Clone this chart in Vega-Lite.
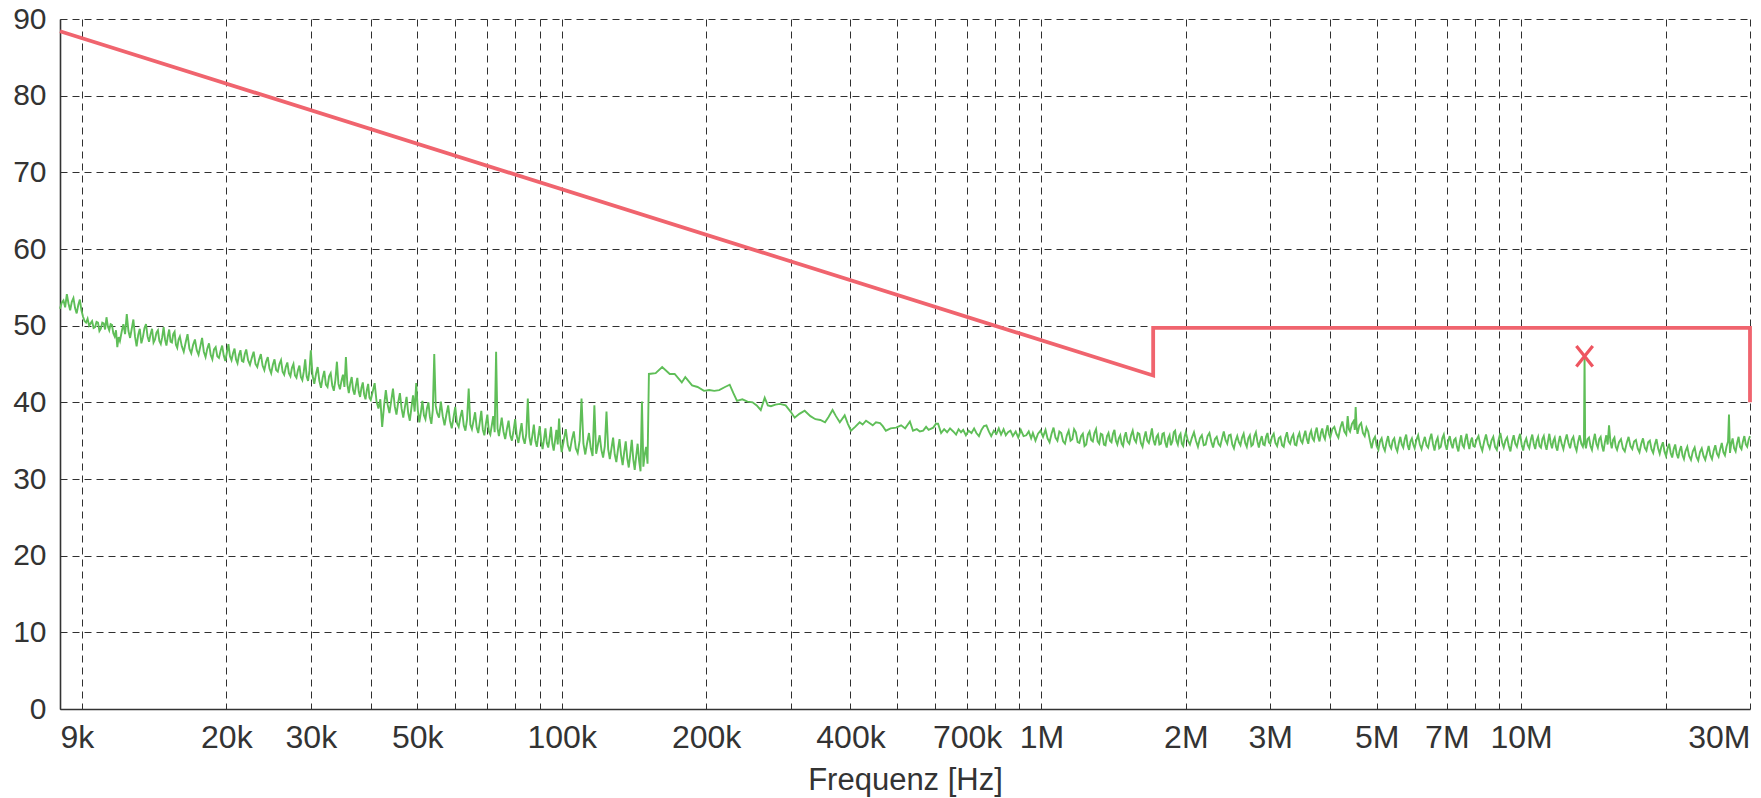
{
"$schema":"https://vega.github.io/schema/vega-lite/v6.json",
"width":1690,"height":690,
"autosize":{"type":"none"},
"padding":{"left":60,"top":19,"right":11,"bottom":89},
"background":"white",
"config":{"view":{"stroke":null},"font":"Liberation Sans"},
"datasets":{
"noise":[
{"f":9,"v":52.2},{"f":9.075,"v":53.0},{"f":9.15,"v":53.3},{"f":9.225,"v":52.4},{"f":9.3,"v":54.1},{"f":9.375,"v":52.9},{"f":9.45,"v":52.0},{"f":9.525,"v":53.1},{"f":9.6,"v":53.6},{"f":9.675,"v":52.3},{"f":9.75,"v":51.6},{"f":9.825,"v":52.7},{"f":9.9,"v":53.4},{"f":9.975,"v":52.0},{"f":10.05,"v":51.2},{"f":10.125,"v":50.6},{"f":10.2,"v":50.4},{"f":10.275,"v":50.9},{"f":10.35,"v":50.0},{"f":10.425,"v":50.3},{"f":10.5,"v":50.6},{"f":10.575,"v":49.7},{"f":10.65,"v":49.8},{"f":10.725,"v":50.5},{"f":10.8,"v":50.4},{"f":10.875,"v":49.3},{"f":10.95,"v":49.6},{"f":11.025,"v":50.4},{"f":11.1,"v":50.3},{"f":11.175,"v":49.5},{"f":11.25,"v":51.1},{"f":11.325,"v":49.9},{"f":11.4,"v":49.4},{"f":11.475,"v":50.2},{"f":11.55,"v":50.1},{"f":11.625,"v":49.0},{"f":11.7,"v":48.6},{"f":11.775,"v":49.4},{"f":11.85,"v":47.2},{"f":11.925,"v":48.5},
{"f":12,"v":48.0},{"f":12.1,"v":49.2},{"f":12.2,"v":50.2},{"f":12.3,"v":48.9},{"f":12.4,"v":51.5},{"f":12.5,"v":49.3},{"f":12.6,"v":48.4},{"f":12.7,"v":49.6},{"f":12.8,"v":50.8},{"f":12.9,"v":48.6},{"f":13,"v":47.3},{"f":13.1,"v":48.8},{"f":13.2,"v":49.6},{"f":13.3,"v":47.7},{"f":13.4,"v":48.5},{"f":13.5,"v":49.7},{"f":13.6,"v":50.2},{"f":13.7,"v":48.6},{"f":13.8,"v":47.9},{"f":13.9,"v":48.9},{"f":14,"v":49.6},{"f":14.1,"v":47.8},{"f":14.2,"v":48.2},{"f":14.3,"v":49.1},{"f":14.4,"v":49.4},{"f":14.5,"v":48.0},{"f":14.6,"v":47.6},{"f":14.7,"v":48.5},{"f":14.8,"v":49.8},{"f":14.9,"v":48.2},{"f":15,"v":47.4},{"f":15.1,"v":48.6},{"f":15.2,"v":49.5},{"f":15.3,"v":47.9},{"f":15.4,"v":47.8},{"f":15.5,"v":48.9},{"f":15.6,"v":49.2},{"f":15.7,"v":47.5},{"f":15.8,"v":47.1},{"f":15.9,"v":48.2},
{"f":16,"v":48.6},{"f":16.15,"v":47.3},{"f":16.3,"v":46.6},{"f":16.45,"v":47.8},{"f":16.6,"v":48.9},{"f":16.75,"v":47.0},{"f":16.9,"v":46.4},{"f":17.05,"v":47.5},{"f":17.2,"v":48.2},{"f":17.35,"v":46.8},{"f":17.5,"v":46.2},{"f":17.65,"v":47.3},{"f":17.8,"v":48.4},{"f":17.95,"v":46.6},{"f":18.1,"v":45.9},{"f":18.25,"v":47.0},{"f":18.4,"v":47.7},{"f":18.55,"v":46.2},{"f":18.7,"v":45.6},{"f":18.85,"v":46.9},{"f":19,"v":47.2},{"f":19.15,"v":46.0},{"f":19.3,"v":45.8},{"f":19.45,"v":46.7},{"f":19.6,"v":47.4},{"f":19.75,"v":46.1},{"f":19.9,"v":45.4},{"f":20.05,"v":46.5},{"f":20.2,"v":47.6},{"f":20.35,"v":46.0},{"f":20.5,"v":45.5},{"f":20.65,"v":46.4},{"f":20.8,"v":47.0},{"f":20.95,"v":45.6},{"f":21.1,"v":45.1},{"f":21.25,"v":46.2},{"f":21.4,"v":46.8},{"f":21.55,"v":45.4},{"f":21.7,"v":45.3},{"f":21.85,"v":46.3},
{"f":22,"v":46.9},{"f":22.2,"v":45.5},{"f":22.4,"v":44.9},{"f":22.6,"v":45.8},{"f":22.8,"v":46.6},{"f":23,"v":45.0},{"f":23.2,"v":44.6},{"f":23.4,"v":45.6},{"f":23.6,"v":46.3},{"f":23.8,"v":44.8},{"f":24,"v":44.2},{"f":24.2,"v":45.3},{"f":24.4,"v":45.9},{"f":24.6,"v":44.4},{"f":24.8,"v":43.8},{"f":25,"v":44.9},{"f":25.2,"v":45.6},{"f":25.4,"v":44.2},{"f":25.6,"v":44.0},{"f":25.8,"v":45.0},{"f":26,"v":45.5},{"f":26.2,"v":44.0},{"f":26.4,"v":43.6},{"f":26.6,"v":44.6},{"f":26.8,"v":45.2},{"f":27,"v":43.8},{"f":27.2,"v":43.4},{"f":27.4,"v":44.5},{"f":27.6,"v":45.0},{"f":27.8,"v":43.5},{"f":28,"v":43.2},{"f":28.2,"v":44.2},{"f":28.4,"v":44.8},{"f":28.6,"v":43.3},{"f":28.8,"v":42.9},{"f":29,"v":44.0},{"f":29.2,"v":45.6},{"f":29.4,"v":43.4},{"f":29.6,"v":42.8},{"f":29.8,"v":44.1},
{"f":30,"v":46.8},{"f":30.25,"v":43.5},{"f":30.5,"v":42.4},{"f":30.75,"v":43.7},{"f":31,"v":44.6},{"f":31.25,"v":42.8},{"f":31.5,"v":41.9},{"f":31.75,"v":43.2},{"f":32,"v":44.1},{"f":32.25,"v":42.3},{"f":32.5,"v":42.0},{"f":32.75,"v":43.4},{"f":33,"v":43.8},{"f":33.25,"v":42.2},{"f":33.5,"v":41.5},{"f":33.75,"v":42.9},{"f":34,"v":45.3},{"f":34.25,"v":42.4},{"f":34.5,"v":41.7},{"f":34.75,"v":42.8},{"f":35,"v":43.6},{"f":35.25,"v":42.0},{"f":35.5,"v":45.9},{"f":35.75,"v":42.3},{"f":36,"v":41.2},{"f":36.25,"v":42.5},{"f":36.5,"v":43.3},{"f":36.75,"v":41.6},{"f":37,"v":41.0},{"f":37.25,"v":42.2},{"f":37.5,"v":43.2},{"f":37.75,"v":41.4},{"f":38,"v":40.7},{"f":38.25,"v":41.9},{"f":38.5,"v":42.6},{"f":38.75,"v":41.0},{"f":39,"v":40.4},{"f":39.25,"v":41.6},{"f":39.5,"v":42.4},{"f":39.75,"v":40.6},
{"f":40,"v":40.3},{"f":40.375,"v":41.4},{"f":40.75,"v":42.5},{"f":41.125,"v":40.1},{"f":41.5,"v":39.2},{"f":41.875,"v":40.4},{"f":42.25,"v":36.8},{"f":42.625,"v":39.5},{"f":43,"v":41.6},{"f":43.375,"v":39.7},{"f":43.75,"v":38.6},{"f":44.125,"v":40.2},{"f":44.5,"v":41.8},{"f":44.875,"v":39.5},{"f":45.25,"v":38.4},{"f":45.625,"v":40.0},{"f":46,"v":41.2},{"f":46.375,"v":39.2},{"f":46.75,"v":38.0},{"f":47.125,"v":39.4},{"f":47.5,"v":40.7},{"f":47.875,"v":38.6},{"f":48.25,"v":37.6},{"f":48.625,"v":39.3},{"f":49,"v":40.9},{"f":49.375,"v":38.8},{"f":49.75,"v":42.5},{"f":50.125,"v":39.0},{"f":50.5,"v":37.4},{"f":50.875,"v":38.7},{"f":51.25,"v":40.2},{"f":51.625,"v":38.3},{"f":52,"v":37.8},{"f":52.375,"v":39.2},{"f":52.75,"v":40.0},{"f":53.125,"v":38.1},{"f":53.5,"v":37.2},{"f":53.875,"v":39.0},{"f":54.25,"v":46.3},{"f":54.625,"v":39.6},{"f":55,"v":38.6},{"f":55.5,"v":38.0},
{"f":56,"v":40.1},{"f":56.5,"v":38.2},{"f":57,"v":37.0},{"f":57.5,"v":38.4},{"f":58,"v":39.6},{"f":58.5,"v":37.6},{"f":59,"v":36.6},{"f":59.5,"v":38.0},{"f":60,"v":39.4},{"f":60.5,"v":37.3},{"f":61,"v":36.8},{"f":61.5,"v":38.1},{"f":62,"v":39.0},{"f":62.5,"v":37.0},{"f":63,"v":36.3},{"f":63.5,"v":37.8},{"f":64,"v":41.8},{"f":64.5,"v":37.1},{"f":65,"v":36.5},{"f":65.5,"v":37.6},{"f":66,"v":38.7},{"f":66.5,"v":36.7},{"f":67,"v":36.0},{"f":67.5,"v":37.4},{"f":68,"v":38.9},{"f":68.5,"v":36.4},{"f":69,"v":35.7},{"f":69.5,"v":37.2},{"f":70,"v":38.4},{"f":70.5,"v":36.2},{"f":71,"v":35.8},{"f":71.5,"v":37.0},{"f":72,"v":38.2},{"f":72.5,"v":36.1},{"f":73,"v":46.6},{"f":73.5,"v":36.6},{"f":74,"v":35.6},{"f":74.5,"v":36.8},{"f":75,"v":38.0},
{"f":75.625,"v":36.2},{"f":76.25,"v":35.2},{"f":76.875,"v":36.5},{"f":77.5,"v":37.6},{"f":78.125,"v":35.7},{"f":78.75,"v":35.0},{"f":79.375,"v":36.3},{"f":80,"v":37.8},{"f":80.625,"v":35.6},{"f":81.25,"v":34.7},{"f":81.875,"v":36.0},{"f":82.5,"v":37.3},{"f":83.125,"v":35.3},{"f":83.75,"v":34.6},{"f":84.375,"v":35.9},{"f":85,"v":40.5},{"f":85.625,"v":35.5},{"f":86.25,"v":34.4},{"f":86.875,"v":35.7},{"f":87.5,"v":37.1},{"f":88.125,"v":35.0},{"f":88.75,"v":34.2},{"f":89.375,"v":35.6},{"f":90,"v":36.9},{"f":90.625,"v":34.9},{"f":91.25,"v":33.9},{"f":91.875,"v":35.2},{"f":92.5,"v":36.6},{"f":93.125,"v":34.7},{"f":93.75,"v":34.1},{"f":94.375,"v":35.3},{"f":95,"v":36.8},{"f":95.625,"v":34.6},{"f":96.25,"v":33.7},{"f":96.875,"v":35.0},{"f":97.5,"v":36.4},{"f":98.125,"v":34.5},{"f":98.75,"v":37.9},{"f":99.375,"v":34.8},{"f":100,"v":33.5},
{"f":101,"v":35.0},{"f":102,"v":36.5},{"f":103,"v":34.4},{"f":104,"v":33.6},{"f":105,"v":35.1},{"f":106,"v":36.2},{"f":107,"v":34.0},{"f":108,"v":33.4},{"f":109,"v":35.0},{"f":110,"v":40.5},{"f":111,"v":34.6},{"f":112,"v":33.2},{"f":113,"v":34.7},{"f":114,"v":36.0},{"f":115,"v":34.0},{"f":116,"v":33.0},{"f":117,"v":39.6},{"f":118,"v":33.3},{"f":119,"v":34.5},{"f":120,"v":35.7},{"f":121,"v":33.8},{"f":122,"v":32.8},{"f":123,"v":34.3},{"f":124,"v":38.8},{"f":125,"v":33.9},{"f":126,"v":32.6},{"f":127,"v":34.0},{"f":128,"v":35.4},{"f":129,"v":33.2},{"f":130,"v":32.2},{"f":131,"v":33.8},{"f":132,"v":35.2},{"f":133,"v":33.1},{"f":134,"v":31.8},{"f":135,"v":33.5},{"f":136,"v":34.9},{"f":137,"v":32.7},{"f":138,"v":31.5},{"f":139,"v":33.2},{"f":140,"v":35.1},{"f":141,"v":32.6},{"f":142,"v":31.2},{"f":143,"v":33.0},{"f":144,"v":34.6},{"f":145,"v":32.4},{"f":146,"v":31.0},{"f":147,"v":40.1},{"f":148,"v":31.6},{"f":149,"v":33.2},{"f":150,"v":34.2},{"f":151,"v":32.0},
{"f":152,"v":43.7},{"f":157,"v":43.8},{"f":162,"v":44.6},{"f":168,"v":43.7},{"f":172,"v":43.7},{"f":178,"v":42.6},{"f":181,"v":43.3},{"f":187,"v":42.2},{"f":192,"v":42.0},{"f":198,"v":41.5},{"f":203,"v":41.6},{"f":208,"v":41.5},{"f":213,"v":41.6},{"f":219,"v":42.0},{"f":224,"v":42.3},{"f":228,"v":41.2},{"f":232,"v":40.2},{"f":238,"v":40.4},{"f":244,"v":40.1},{"f":250,"v":40.0},{"f":255,"v":39.6},{"f":260,"v":39.0},{"f":265,"v":40.6},{"f":269,"v":39.6},{"f":273,"v":39.5},{"f":279,"v":39.7},{"f":285,"v":39.8},{"f":293,"v":39.6},{"f":300,"v":38.8},{"f":306,"v":38.0},{"f":313,"v":38.5},{"f":321,"v":38.9},{"f":330,"v":38.2},{"f":338,"v":37.8},{"f":346,"v":37.7},{"f":354,"v":37.4},{"f":360,"v":38.1},{"f":367,"v":39.0},{"f":373,"v":38.2},{"f":380,"v":37.4},{"f":389,"v":38.3},{"f":395,"v":37.2},{"f":401,"v":36.3},{"f":409,"v":36.8},{"f":418,"v":37.4},{"f":424,"v":37.1},{"f":431,"v":37.6},{"f":438,"v":37.3},{"f":445,"v":37.0},{"f":452,"v":37.4},{"f":461,"v":37.3},{"f":467,"v":36.9},{"f":474,"v":36.3},{"f":485,"v":36.6},{"f":498,"v":36.7},{"f":510,"v":37.0},{"f":520,"v":36.6},{"f":532,"v":37.5},{"f":540,"v":36.3},{"f":550,"v":36.5},{"f":558,"v":36.2},{"f":567,"v":36.3},{"f":575,"v":36.8},{"f":582,"v":36.4},{"f":595,"v":36.7},{"f":603,"v":37.2},{"f":609,"v":37.2},{"f":618,"v":36.0},{"f":627,"v":36.5},{"f":636,"v":36.1},{"f":645,"v":36.6},{"f":655,"v":36.2},{"f":664,"v":35.8},{"f":672,"v":36.5},{"f":680,"v":36.1},{"f":687,"v":36.4},{"f":696,"v":35.7},{"f":705,"v":36.3},{"f":715,"v":36.0},{"f":724,"v":36.6},{"f":732,"v":36.0},{"f":741,"v":35.6},{"f":750,"v":36.4},{"f":759,"v":36.9},{"f":768,"v":37.0},{"f":777,"v":36.2},{"f":786,"v":35.6},{"f":796,"v":36.3},{"f":806,"v":35.9},{"f":815,"v":36.6},{"f":824,"v":35.8},{"f":834,"v":36.5},{"f":843,"v":35.7},{"f":852,"v":36.1},{"f":862,"v":36.3},{"f":872,"v":35.6},{"f":884,"v":36.2},{"f":895,"v":35.4},{"f":906,"v":36.4},{"f":918,"v":35.6},{"f":930,"v":35.7},{"f":941,"v":36.2},{"f":952,"v":35.3},{"f":960,"v":36.0},{"f":972,"v":35.0},{"f":984,"v":35.9},{"f":996,"v":36.3},{"f":1008,"v":35.5},
{"f":1020,"v":36.4},{"f":1030,"v":35.3},{"f":1040,"v":34.8},{"f":1050,"v":35.9},{"f":1060,"v":36.7},{"f":1070,"v":35.4},{"f":1080,"v":35.0},{"f":1090,"v":36.2},{"f":1100,"v":36.0},{"f":1110,"v":34.9},{"f":1120,"v":34.6},{"f":1130,"v":35.7},{"f":1140,"v":36.3},{"f":1150,"v":35.0},{"f":1160,"v":35.2},{"f":1170,"v":36.5},{"f":1180,"v":36.1},{"f":1190,"v":34.8},{"f":1200,"v":34.7},{"f":1210,"v":35.6},{"f":1220,"v":35.9},{"f":1230,"v":34.3},{"f":1240,"v":34.5},{"f":1250,"v":35.8},{"f":1260,"v":36.2},{"f":1270,"v":35.1},{"f":1280,"v":34.9},{"f":1290,"v":36.0},{"f":1300,"v":36.5},{"f":1310,"v":34.9},{"f":1320,"v":34.6},{"f":1330,"v":35.9},{"f":1340,"v":35.8},{"f":1350,"v":34.5},{"f":1360,"v":34.4},{"f":1370,"v":35.6},{"f":1380,"v":36.0},{"f":1390,"v":35.0},{"f":1400,"v":34.8},{"f":1410,"v":35.9},{"f":1420,"v":36.4},{"f":1430,"v":35.0},{"f":1440,"v":34.5},{"f":1450,"v":35.3},{"f":1460,"v":35.7},{"f":1470,"v":34.6},{"f":1480,"v":34.3},{"f":1490,"v":35.5},{"f":1500,"v":36.1},
{"f":1512,"v":34.9},{"f":1525,"v":34.6},{"f":1538,"v":35.7},{"f":1550,"v":36.3},{"f":1562,"v":35.2},{"f":1575,"v":34.8},{"f":1588,"v":36.0},{"f":1600,"v":35.9},{"f":1612,"v":34.7},{"f":1625,"v":34.2},{"f":1638,"v":35.4},{"f":1650,"v":36.2},{"f":1662,"v":35.0},{"f":1675,"v":34.7},{"f":1688,"v":35.6},{"f":1700,"v":36.6},{"f":1712,"v":35.1},{"f":1725,"v":34.4},{"f":1738,"v":35.5},{"f":1750,"v":35.8},{"f":1762,"v":34.5},{"f":1775,"v":34.6},{"f":1788,"v":35.9},{"f":1800,"v":36.0},{"f":1812,"v":34.8},{"f":1825,"v":34.1},{"f":1838,"v":35.3},{"f":1850,"v":35.7},{"f":1862,"v":34.4},{"f":1875,"v":34.9},{"f":1888,"v":36.1},{"f":1900,"v":36.3},{"f":1912,"v":35.0},{"f":1925,"v":34.5},{"f":1938,"v":35.6},{"f":1950,"v":35.9},{"f":1962,"v":34.6},{"f":1975,"v":34.3},{"f":1988,"v":35.5},{"f":2000,"v":36.1},
{"f":2020,"v":35.0},{"f":2040,"v":34.5},{"f":2060,"v":35.4},{"f":2080,"v":36.1},{"f":2100,"v":35.0},{"f":2120,"v":34.2},{"f":2140,"v":35.3},{"f":2160,"v":35.7},{"f":2180,"v":34.4},{"f":2200,"v":34.5},{"f":2220,"v":35.6},{"f":2240,"v":36.0},{"f":2260,"v":34.9},{"f":2280,"v":34.1},{"f":2300,"v":35.2},{"f":2320,"v":35.5},{"f":2340,"v":34.6},{"f":2360,"v":34.3},{"f":2380,"v":35.3},{"f":2400,"v":36.2},{"f":2420,"v":35.1},{"f":2440,"v":34.6},{"f":2460,"v":35.7},{"f":2480,"v":35.8},{"f":2500,"v":34.5},{"f":2520,"v":34.0},{"f":2540,"v":35.0},{"f":2560,"v":35.6},{"f":2580,"v":34.8},{"f":2600,"v":34.4},{"f":2620,"v":35.4},{"f":2640,"v":35.9},{"f":2660,"v":34.7},{"f":2680,"v":34.2},{"f":2700,"v":35.3},{"f":2720,"v":35.7},{"f":2740,"v":34.3},{"f":2760,"v":34.5},{"f":2780,"v":35.6},{"f":2800,"v":36.1},{"f":2820,"v":34.9},{"f":2840,"v":34.1},{"f":2860,"v":35.0},{"f":2880,"v":35.6},{"f":2900,"v":34.5},{"f":2920,"v":34.4},{"f":2940,"v":35.5},{"f":2960,"v":36.0},{"f":2980,"v":34.8},{"f":3000,"v":34.6},
{"f":3025,"v":35.5},{"f":3050,"v":35.9},{"f":3075,"v":34.7},{"f":3100,"v":34.3},{"f":3125,"v":35.3},{"f":3150,"v":35.5},{"f":3175,"v":34.4},{"f":3200,"v":34.2},{"f":3225,"v":35.4},{"f":3250,"v":36.1},{"f":3275,"v":34.9},{"f":3300,"v":34.6},{"f":3325,"v":35.4},{"f":3350,"v":35.8},{"f":3375,"v":34.5},{"f":3400,"v":34.4},{"f":3425,"v":35.5},{"f":3450,"v":36.0},{"f":3475,"v":35.0},{"f":3500,"v":34.7},{"f":3525,"v":35.6},{"f":3550,"v":36.3},{"f":3575,"v":35.2},{"f":3600,"v":34.6},{"f":3625,"v":35.8},{"f":3650,"v":36.3},{"f":3675,"v":35.3},{"f":3700,"v":35.0},{"f":3725,"v":36.1},{"f":3750,"v":36.7},{"f":3775,"v":35.5},{"f":3800,"v":34.9},{"f":3825,"v":36.0},{"f":3850,"v":36.6},{"f":3875,"v":35.6},{"f":3900,"v":35.2},{"f":3925,"v":36.3},{"f":3950,"v":37.0},{"f":3975,"v":35.9},{"f":4000,"v":35.4},
{"f":4040,"v":36.5},{"f":4080,"v":36.8},{"f":4120,"v":35.9},{"f":4160,"v":35.4},{"f":4200,"v":36.7},{"f":4240,"v":37.5},{"f":4280,"v":36.2},{"f":4320,"v":35.8},{"f":4350,"v":38.2},{"f":4375,"v":36.5},{"f":4400,"v":36.2},{"f":4440,"v":37.2},{"f":4480,"v":37.6},{"f":4500,"v":36.4},{"f":4520,"v":39.4},{"f":4540,"v":36.8},{"f":4560,"v":35.9},{"f":4600,"v":37.0},{"f":4640,"v":37.3},{"f":4680,"v":36.0},{"f":4720,"v":35.6},{"f":4760,"v":36.7},{"f":4800,"v":36.2},{"f":4840,"v":35.0},
{"f":4880,"v":34.0},{"f":4920,"v":35.1},{"f":4960,"v":35.5},{"f":5000,"v":34.3},{"f":5040,"v":33.8},{"f":5080,"v":34.9},{"f":5120,"v":35.3},{"f":5160,"v":34.2},{"f":5200,"v":33.7},{"f":5240,"v":34.8},{"f":5280,"v":35.6},{"f":5320,"v":34.4},{"f":5360,"v":34.0},{"f":5400,"v":35.0},{"f":5440,"v":35.3},{"f":5480,"v":34.1},{"f":5520,"v":33.6},{"f":5560,"v":34.7},{"f":5600,"v":35.5},{"f":5640,"v":34.5},{"f":5680,"v":34.1},{"f":5720,"v":35.2},{"f":5760,"v":35.8},{"f":5800,"v":34.4},{"f":5840,"v":33.8},{"f":5880,"v":34.9},{"f":5920,"v":35.3},{"f":5960,"v":34.5},{"f":6000,"v":34.0},
{"f":6050,"v":35.1},{"f":6100,"v":35.7},{"f":6150,"v":34.5},{"f":6200,"v":33.9},{"f":6250,"v":34.8},{"f":6300,"v":35.5},{"f":6350,"v":34.4},{"f":6400,"v":34.1},{"f":6450,"v":35.2},{"f":6500,"v":35.9},{"f":6550,"v":34.6},{"f":6600,"v":33.7},{"f":6650,"v":34.9},{"f":6700,"v":35.4},{"f":6750,"v":34.0},{"f":6800,"v":34.2},{"f":6850,"v":35.3},{"f":6900,"v":35.8},{"f":6950,"v":34.5},{"f":7000,"v":33.8},{"f":7050,"v":35.0},{"f":7100,"v":35.6},{"f":7150,"v":34.6},{"f":7200,"v":34.0},{"f":7250,"v":35.1},{"f":7300,"v":35.3},{"f":7350,"v":34.2},{"f":7400,"v":33.6},{"f":7450,"v":34.8},{"f":7500,"v":35.7},{"f":7550,"v":34.4},{"f":7600,"v":34.1},{"f":7650,"v":35.2},{"f":7700,"v":35.9},{"f":7750,"v":34.7},{"f":7800,"v":33.9},{"f":7850,"v":34.9},{"f":7900,"v":35.4},{"f":7950,"v":34.3},{"f":8000,"v":34.2},
{"f":8075,"v":35.1},{"f":8150,"v":35.6},{"f":8225,"v":34.4},{"f":8300,"v":33.7},{"f":8375,"v":34.9},{"f":8450,"v":35.8},{"f":8525,"v":34.6},{"f":8600,"v":34.0},{"f":8675,"v":35.0},{"f":8750,"v":35.5},{"f":8825,"v":34.2},{"f":8900,"v":33.8},{"f":8975,"v":35.1},{"f":9050,"v":36.0},{"f":9125,"v":34.8},{"f":9200,"v":34.1},{"f":9275,"v":35.0},{"f":9350,"v":35.4},{"f":9425,"v":34.3},{"f":9500,"v":33.6},{"f":9575,"v":34.9},{"f":9650,"v":35.7},{"f":9725,"v":34.6},{"f":9800,"v":34.2},{"f":9875,"v":35.2},{"f":9950,"v":35.9},{"f":10025,"v":34.5},{"f":10100,"v":33.7},{"f":10175,"v":34.8},{"f":10250,"v":35.3},{"f":10325,"v":34.4},{"f":10400,"v":34.0},{"f":10475,"v":35.1},{"f":10550,"v":35.8},{"f":10625,"v":34.6},{"f":10700,"v":33.9},{"f":10775,"v":35.0},{"f":10850,"v":35.5},{"f":10925,"v":34.3},{"f":11000,"v":34.1},{"f":11075,"v":35.2},{"f":11150,"v":35.6},{"f":11225,"v":34.5},{"f":11300,"v":33.8},{"f":11375,"v":34.9},{"f":11450,"v":35.9},{"f":11525,"v":34.7},{"f":11600,"v":34.0},{"f":11675,"v":35.0},{"f":11750,"v":35.4},{"f":11825,"v":34.2},{"f":11900,"v":33.7},{"f":11975,"v":34.8},{"f":12050,"v":35.6},
{"f":12150,"v":34.6},{"f":12250,"v":33.9},{"f":12350,"v":35.0},{"f":12450,"v":35.8},{"f":12550,"v":34.7},{"f":12650,"v":34.0},{"f":12750,"v":35.1},{"f":12850,"v":35.5},{"f":12950,"v":34.3},{"f":13050,"v":33.7},{"f":13150,"v":34.9},{"f":13250,"v":35.7},{"f":13350,"v":34.6},{"f":13450,"v":34.2},{"f":13520,"v":35.0},{"f":13560,"v":46.0},{"f":13600,"v":34.6},{"f":13650,"v":34.0},{"f":13750,"v":35.2},{"f":13850,"v":35.4},{"f":13950,"v":34.3},{"f":14050,"v":33.8},{"f":14150,"v":35.0},{"f":14250,"v":35.9},{"f":14350,"v":34.6},{"f":14450,"v":34.1},{"f":14550,"v":35.2},{"f":14650,"v":35.5},{"f":14750,"v":34.3},{"f":14850,"v":33.6},{"f":14950,"v":34.8},{"f":15050,"v":35.7},{"f":15150,"v":34.5},{"f":15250,"v":37.0},{"f":15350,"v":34.9},{"f":15450,"v":34.0},{"f":15550,"v":35.1},{"f":15650,"v":35.4},{"f":15750,"v":34.2},{"f":15850,"v":33.8},
{"f":16000,"v":34.8},{"f":16150,"v":35.2},{"f":16300,"v":34.0},{"f":16450,"v":33.6},{"f":16600,"v":34.7},{"f":16750,"v":35.5},{"f":16900,"v":34.3},{"f":17050,"v":33.9},{"f":17200,"v":34.9},{"f":17350,"v":35.1},{"f":17500,"v":34.0},{"f":17650,"v":33.5},{"f":17800,"v":34.6},{"f":17950,"v":35.3},{"f":18100,"v":34.1},{"f":18250,"v":33.7},{"f":18400,"v":34.8},{"f":18550,"v":35.0},{"f":18700,"v":33.9},{"f":18850,"v":33.4},{"f":19000,"v":34.5},{"f":19150,"v":35.2},{"f":19300,"v":34.0},{"f":19450,"v":33.3},{"f":19600,"v":34.2},{"f":19750,"v":34.8},{"f":19900,"v":33.6},{"f":20050,"v":33.0},{"f":20200,"v":34.0},{"f":20350,"v":34.6},{"f":20500,"v":33.4},{"f":20650,"v":32.8},{"f":20800,"v":33.9},{"f":20950,"v":34.5},{"f":21100,"v":33.3},{"f":21250,"v":32.7},{"f":21400,"v":33.7},{"f":21550,"v":34.3},{"f":21700,"v":33.1},{"f":21850,"v":32.6},
{"f":22000,"v":33.6},{"f":22200,"v":34.2},{"f":22400,"v":33.0},{"f":22600,"v":32.5},{"f":22800,"v":33.6},{"f":23000,"v":34.1},{"f":23200,"v":32.9},{"f":23400,"v":32.4},{"f":23600,"v":33.5},{"f":23800,"v":34.0},{"f":24000,"v":33.0},{"f":24200,"v":32.5},{"f":24400,"v":33.4},{"f":24600,"v":34.3},{"f":24800,"v":33.1},{"f":25000,"v":32.6},{"f":25200,"v":33.7},{"f":25400,"v":34.4},{"f":25600,"v":33.3},{"f":25800,"v":32.9},{"f":26000,"v":33.9},{"f":26200,"v":34.7},{"f":26400,"v":33.5},{"f":26600,"v":33.1},{"f":26800,"v":34.2},{"f":27000,"v":34.9},{"f":27120,"v":38.4},{"f":27250,"v":33.4},{"f":27400,"v":34.5},{"f":27600,"v":35.3},{"f":27800,"v":34.0},{"f":28000,"v":33.6},{"f":28200,"v":34.7},{"f":28400,"v":35.5},{"f":28600,"v":34.2},{"f":28800,"v":33.9},{"f":29000,"v":34.9},{"f":29200,"v":35.6},{"f":29400,"v":34.5},{"f":29600,"v":34.2},{"f":29800,"v":35.1},{"f":30000,"v":35.6}
],
"limit":[
{"i":1,"f":9,"v":88.4},{"i":2,"f":1710,"v":43.5},{"i":3,"f":1710,"v":49.7},{"i":4,"f":30000,"v":49.7},{"i":5,"f":30000,"v":40.0}
],
"peak":[{"f":13560,"v":46.0}]
},
"encoding":{
"x":{"field":"f","type":"quantitative",
"scale":{"type":"log","domain":[9,30000],"nice":false},
"axis":{"values":[9,10,20,30,40,50,60,70,80,90,100,200,300,400,500,600,700,800,900,1000,2000,3000,4000,5000,6000,7000,8000,9000,10000,20000,30000],
"labelExpr":"indexof([9,20,30,50,100,200,400,700],datum.value)>=0 ? datum.value+'k' : (indexof([1000,2000,3000,5000,7000,10000,30000],datum.value)>=0 ? (datum.value/1000)+'M' : '')",
"labelFlush":true,"labelOverlap":false,"ticks":false,
"grid":true,"gridDash":[7,5],"gridColor":"#1a1a1a","gridOpacity":0.9,"gridWidth":1,
"domainColor":"#333","domainWidth":1.6,
"labelFont":"Liberation Sans","labelFontSize":32,"labelColor":"#333","labelPadding":13,
"title":"Frequenz [Hz]","titleFont":"Liberation Sans","titleFontSize":31,"titleFontWeight":"normal","titleColor":"#333","titlePadding":12}},
"y":{"field":"v","type":"quantitative",
"scale":{"domain":[0,90],"nice":false},
"axis":{"values":[0,10,20,30,40,50,60,70,80,90],"ticks":false,
"grid":true,"gridDash":[7,5],"gridColor":"#1a1a1a","gridOpacity":0.9,"gridWidth":1,
"domainColor":"#333","domainWidth":1.6,
"labelFont":"Liberation Sans","labelFontSize":30,"labelColor":"#333","labelPadding":14,
"title":null}}
},
"layer":[
{"data":{"name":"noise"},"mark":{"type":"line","color":"#5fbe58","strokeWidth":1.9}},
{"data":{"name":"limit"},"mark":{"type":"line","color":"#f0646e","strokeWidth":3.8},"encoding":{"order":{"field":"i","type":"quantitative"}}},
{"data":{"name":"peak"},"mark":{"type":"point","shape":"M-0.8,-1L0.8,1M0.8,-1L-0.8,1","stroke":"#ee5560","strokeWidth":3.2,"size":420,"filled":false,"opacity":1}}
]
}
